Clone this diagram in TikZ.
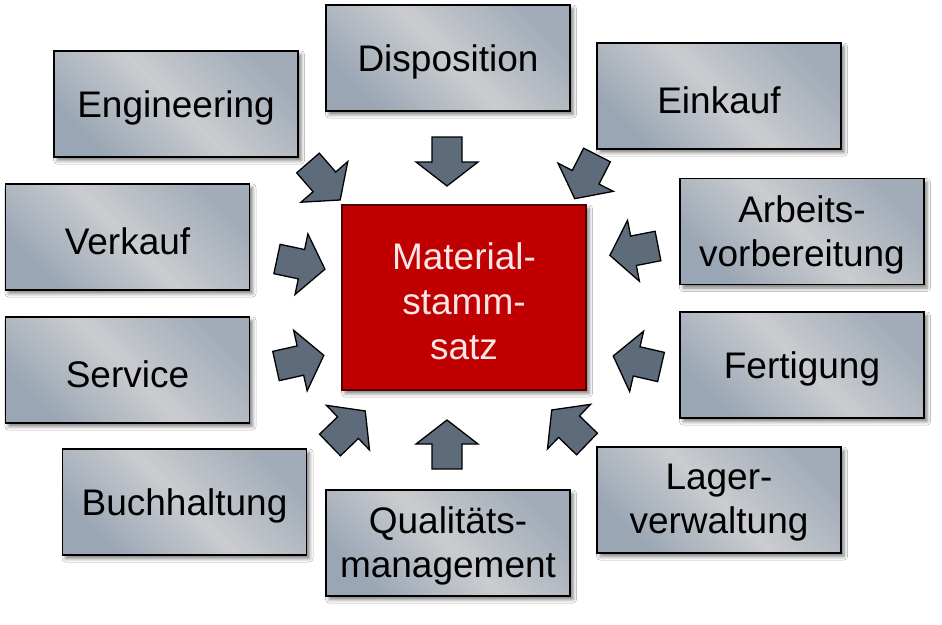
\documentclass[tikz,border=0pt]{standalone}
\usepackage{fontspec}
\setmainfont{Liberation Sans}
\usetikzlibrary{shadows.blur}
\definecolor{boxA}{HTML}{A2ACB8}
\definecolor{boxB}{HTML}{CACCCF}
\definecolor{boxC}{HTML}{9AA6B4}
\definecolor{arrowfill}{HTML}{5D6B7B}
\definecolor{corered}{HTML}{C00000}
\definecolor{coretext}{HTML}{FAE6E6}
\tikzset{
  areabox/.style={draw=black, line width=1.5pt, minimum width=244pt, minimum height=106pt,
    inner sep=0pt,
    top color=boxA, bottom color=boxC, middle color=boxB, shading angle=-45,
    blur shadow={shadow xshift=3pt, shadow yshift=-3.5pt, shadow blur radius=3.5pt, shadow opacity=50}},
  corebox/.style={draw=black!70!red, line width=1.5pt, fill=corered, minimum width=244pt, minimum height=185pt,
    inner sep=0pt,
    blur shadow={shadow xshift=3pt, shadow yshift=-3.5pt, shadow blur radius=3.5pt, shadow opacity=50}},
  boxtext/.style={inner sep=0pt, align=center, font=\fontsize{37}{44}\selectfont},
  coretxt/.style={inner sep=0pt, align=center, text=coretext, font=\fontsize{37}{45}\selectfont},
  arrowbody/.style={draw=black, line width=1.3pt, fill=arrowfill, line join=miter},
  pics/blockarrow/.style={code={
    \path[arrowbody] (0,-15) -- (25,-15) -- (25,-31) -- (49,0) -- (25,31) -- (25,15) -- (0,15) -- cycle;
  }}
}
\begin{document}
\begin{tikzpicture}[x=1pt,y=-1pt]
\useasboundingbox[fill=white] (0,0) rectangle (942,624);
% boxes
\node[areabox] (dispo) at (448,58) {};
\node[areabox] (eng) at (176,104) {};
\node[areabox] (ein) at (719,96) {};
\node[areabox] (verk) at (127.5,237) {};
\node[areabox] (arb) at (802,231.5) {};
\node[areabox] (serv) at (127.5,370) {};
\node[areabox] (fert) at (802,365) {};
\node[areabox] (buch) at (184.5,502) {};
\node[areabox] (qual) at (448,543) {};
\node[areabox] (lager) at (719,500) {};
\node[corebox] (core) at (464,297.5) {};
% texts
\node[boxtext] (dispoT) at ([yshift=-4pt]dispo.center) {Disposition};
\node[boxtext] (engT) at ([yshift=-4pt]eng.center) {Engineering};
\node[boxtext] (einT) at ([yshift=-4pt]ein.center) {Einkauf};
\node[boxtext] (verkT) at ([yshift=-4pt]verk.center) {Verkauf};
\node[boxtext] (arbT) at ([yshift=-3pt]arb.center) {Arbeits-\\vorbereitung};
\node[boxtext] (servT) at ([yshift=-4pt]serv.center) {Service};
\node[boxtext] (fertT) at ([yshift=-4pt]fert.center) {Fertigung};
\node[boxtext] (buchT) at ([yshift=-4pt]buch.center) {Buchhaltung};
\node[boxtext] (qualT) at ([yshift=-3pt]qual.center) {Qualitäts-\\management};
\node[boxtext] (lagerT) at ([yshift=-3pt]lager.center) {Lager-\\verwaltung};
\node[coretxt] (coreT) at ([yshift=-4pt]core.center) {Material-\\stamm-\\satz};
% arrow tails
\coordinate (tDispo) at (447,137);
\coordinate (tQual) at (447,469);
\coordinate (tVerk) at (277,259);
\coordinate (tServ) at (276,366);
\coordinate (tArb) at (658,246);
\coordinate (tFert) at (661,367);
\coordinate (tEin) at (597,155);
\coordinate (tBuch) at (330,445);
\coordinate (tEng) at (308,163);
\coordinate (tLager) at (587,444);
% block arrows
\pic[rotate=-90] at (tDispo) {blockarrow};
\pic[rotate=90] at (tQual) {blockarrow};
\pic[rotate=-12] at (tVerk) {blockarrow};
\pic[rotate=12.6] at (tServ) {blockarrow};
\pic[rotate=191] at (tArb) {blockarrow};
\pic[rotate=167] at (tFert) {blockarrow};
\pic[rotate=243] at (tEin) {blockarrow};
\pic[rotate=44] at (tBuch) {blockarrow};
\pic[rotate=-49] at (tEng) {blockarrow};
\pic[rotate=136] at (tLager) {blockarrow};
\end{tikzpicture}
\end{document}
